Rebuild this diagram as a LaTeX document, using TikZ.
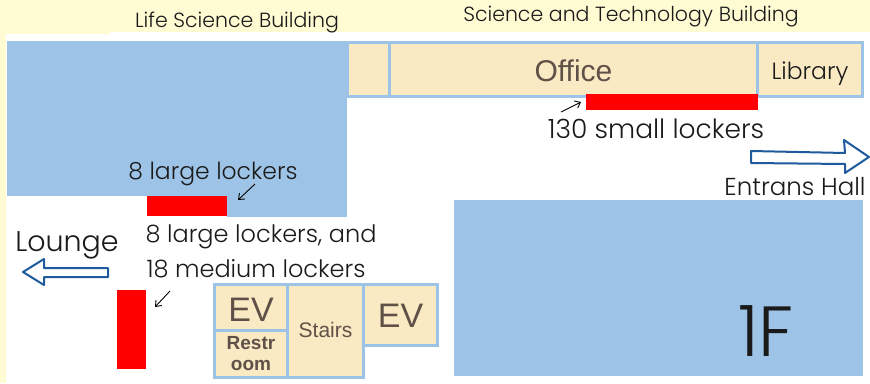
\documentclass[tikz,border=0pt]{standalone}
\usepackage{fontspec}
\setmainfont{Poppins Light}
\newfontfamily\roomfont{Liberation Sans}
\definecolor{paleyellow}{HTML}{FFFBD3}
\definecolor{hallblue}{HTML}{9DC3E6}
\definecolor{roomfill}{HTML}{F9EAC3}
\definecolor{roomtext}{HTML}{5F5148}
\definecolor{arrowblue}{HTML}{1F5A9E}
\definecolor{inktext}{HTML}{1A1A1A}
\usetikzlibrary{arrows.meta}
\newcommand{\sitlow}[2]{\raisebox{-#1pt}[0pt][0pt]{#2}}
\tikzset{
  x=1pt,y=-1pt,
  room/.style={draw=hallblue,fill=roomfill,line width=3pt,anchor=north west,inner sep=0pt,outer sep=0pt,text=roomtext,font=\roomfont,align=center},
  hall/.style={fill=hallblue,draw=none,anchor=north west,inner sep=0pt,outer sep=0pt},
  locker/.style={fill=red,draw=none,anchor=north west,inner sep=0pt,outer sep=0pt},
  lbl/.style={inner sep=0pt,text=inktext,anchor=center},
  pointer/.style={draw=black,line width=0.9pt,-{Straight Barb[length=5pt,width=8pt]}},
  blockarrow/.style={draw=arrowblue,fill=white,line width=2pt,line join=round}
}
\begin{document}
\begin{tikzpicture}
\useasboundingbox (0,0) rectangle (870,383);
\fill[paleyellow] (0,0) rectangle (870,383);
\fill[white] (6,34) rectangle (110,383);
\fill[white] (110,32) rectangle (870,383);
% halls
\node[hall,minimum width=340pt,minimum height=155pt] (lifehall) at (7,41) {};
\node[hall,minimum width=120pt,minimum height=21pt] (lifestrip) at (227,196) {};
\node[hall,minimum width=409pt,minimum height=176pt] (scihall) at (454,200) {};
% rooms top
\node[room,minimum width=42pt,minimum height=53.5pt] (closet) at (347.5,42.5) {};
\node[room,minimum width=368pt,minimum height=53.5pt,font=\roomfont\fontsize{30}{30}\selectfont] (office) at (389.5,42.5) {\sitlow{12}{Office}};
\node[room,minimum width=105pt,minimum height=53.5pt,text=inktext,font=\fontsize{23.5}{24}\selectfont] (library) at (757.5,42.5) {\sitlow{10}{Library}};
% rooms bottom
\node[room,minimum width=73pt,minimum height=46pt,font=\roomfont\fontsize{34}{34}\selectfont] (evleft) at (214.5,284.5) {\sitlow{14}{EV}};
\node[room,minimum width=73pt,minimum height=46.5pt,font=\roomfont\bfseries\fontsize{19}{21}\selectfont] (restroom) at (214.5,330.5) {Restr\\oom};
\node[room,minimum width=76pt,minimum height=92.5pt,font=\roomfont\fontsize{21}{22}\selectfont] (stairs) at (287.5,284.5) {\sitlow{7}{Stairs}};
\node[room,minimum width=74pt,minimum height=60.5pt,font=\roomfont\fontsize{34}{34}\selectfont] (evright) at (363.5,284.5) {\sitlow{13}{EV}};
% lockers
\node[locker,minimum width=80pt,minimum height=20pt] (lockerA) at (147,196) {};
\node[locker,minimum width=172pt,minimum height=16pt] (lockerB) at (586,94) {};
\node[locker,minimum width=29pt,minimum height=79pt] (lockerC) at (117,290) {};
% labels
\node[lbl,font=\fontsize{20.5}{22}\selectfont] (lifelabel) at (237,22) {Life Science Building};
\node[lbl,font=\fontsize{20.5}{22}\selectfont] (scilabel) at (631,17) {Science and Technology Building};
\node[lbl,font=\fontsize{26.5}{28}\selectfont] (smalllabel) at (656,129) {130 small lockers};
\node[lbl,font=\fontsize{23.5}{26}\selectfont] (largelabel) at (213,174) {8 large lockers};
\node[lbl,font=\fontsize{24}{26}\selectfont] (mixedlabelA) at (261,237) {8 large lockers, and};
\node[lbl,font=\fontsize{24}{26}\selectfont] (mixedlabelB) at (256,269) {18 medium lockers};
\node[lbl,font=\fontsize{28.5}{30}\selectfont] (loungelabel) at (67,245) {Lounge};
\node[lbl,font=\fontsize{24.5}{26}\selectfont] (halllabel) at (795,187) {Entrans Hall};
\node[lbl,font=\fontsize{71}{71}\selectfont] (floorlabel) at (766,331) {1F};
% pointers
\coordinate (pA) at (255,184); \coordinate (pAe) at (238,200);
\coordinate (pB) at (561,112); \coordinate (pBe) at (581,102);
\coordinate (pC) at (170,291); \coordinate (pCe) at (155,307);
\draw[pointer] (pA) -- (pAe);
\draw[pointer] (pB) -- (pBe);
\draw[pointer] (pC) -- (pCe);
% block arrows
\draw[blockarrow] (751,151) -- (845,153) -- (844,140) -- (869,157) -- (845,173) -- (845,164) -- (751,163) -- cycle;
\draw[blockarrow] (108,268) -- (44,268) -- (44,259) -- (23,272) -- (44,285) -- (44,277) -- (108,277) -- cycle;
\end{tikzpicture}
\end{document}
